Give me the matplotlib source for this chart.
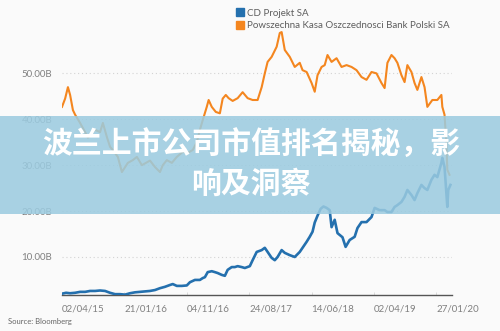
import matplotlib
matplotlib.use("Agg")
import matplotlib.pyplot as plt
from matplotlib.patches import Rectangle
from matplotlib.lines import Line2D

# Trading-day index (0 = 02/04/15) and market cap in billions
pko_days = [0, 10, 19, 26, 35, 42, 58, 74, 83, 106, 122, 131, 144, 154, 163, 179, 192,
            211, 227, 240, 256, 269, 282, 298, 314, 323, 336, 352, 368, 387, 403, 419,
            432, 442, 451, 464, 470, 480, 493, 506, 515, 525, 534, 547, 563, 579, 595,
            611, 627, 640, 650, 659, 672, 688, 698, 704, 714, 730, 746, 762, 771, 784,
            800, 810, 819, 832, 842, 851, 864, 880, 896, 912, 928, 944, 960, 976, 992,
            1008, 1024, 1034, 1043, 1056, 1066, 1075, 1088, 1098, 1107, 1120, 1130,
            1139, 1152, 1162, 1171, 1187, 1203, 1216, 1219, 1226, 1232, 1235, 1242]
pko_cap = [42.7, 44.5, 47.0, 45.3, 42.0, 41.0, 39.2, 37.2, 36.0, 37.7, 37.2, 39.2, 36.1,
           34.0, 33.3, 31.8, 28.5, 30.5, 31.1, 31.8, 30.0, 30.5, 31.0, 29.6, 28.5, 30.0,
           31.1, 30.5, 31.8, 32.9, 32.7, 33.3, 35.0, 37.7, 39.8, 42.7, 44.2, 42.7, 41.6,
           41.3, 44.5, 45.3, 44.6, 44.0, 44.6, 45.9, 44.6, 44.2, 44.2, 47.0, 50.0, 52.5,
           53.6, 55.8, 58.8, 59.0, 55.1, 53.6, 51.4, 52.3, 50.7, 50.3, 47.9, 46.0, 49.6,
           51.4, 51.8, 54.0, 52.5, 53.3, 51.4, 51.8, 51.4, 50.7, 49.2, 48.6, 50.3, 50.0,
           47.9, 46.8, 52.3, 54.0, 53.3, 52.3, 49.6, 48.1, 51.8, 50.3, 47.9, 46.4, 49.2,
           47.0, 42.7, 44.2, 44.2, 45.3, 42.7, 41.0, 34.8, 29.0, 27.9]

cdr_days = [0, 13, 26, 42, 58, 74, 90, 106, 122, 138, 154, 170, 186, 202, 218, 234, 250,
            266, 282, 298, 314, 330, 346, 355, 368, 384, 400, 410, 426, 442, 451, 458,
            467, 480, 490, 499, 512, 522, 531, 544, 554, 563, 576, 586, 602, 611, 624,
            640, 650, 659, 672, 682, 691, 704, 714, 730, 746, 762, 771, 784, 794, 803,
            810, 819, 829, 838, 848, 858, 864, 874, 883, 899, 909, 922, 938, 947, 960,
            976, 992, 1002, 1018, 1034, 1043, 1056, 1066, 1075, 1088, 1098, 1107, 1120,
            1130, 1139, 1152, 1162, 1171, 1184, 1194, 1203, 1216, 1219, 1226, 1229,
            1235, 1238, 1245]
cdr_cap = [2.0, 2.2, 2.1, 2.2, 2.4, 2.4, 2.6, 2.6, 2.7, 2.6, 2.2, 1.9, 1.9, 1.8, 2.1, 2.3,
           2.4, 2.5, 2.6, 2.8, 3.2, 3.5, 3.9, 4.1, 3.7, 3.7, 3.8, 4.5, 5.0, 5.0, 5.4, 5.6,
           6.7, 6.9, 6.7, 6.5, 6.1, 5.9, 7.2, 7.8, 7.8, 8.0, 7.8, 7.6, 8.0, 9.3, 11.1,
           11.5, 12.0, 11.1, 9.8, 9.3, 10.0, 11.5, 10.9, 10.4, 10.0, 11.1, 12.0, 13.3,
           14.4, 15.5, 17.5, 19.0, 20.5, 21.0, 20.7, 20.2, 16.5, 18.1, 15.2, 14.3, 12.2,
           13.7, 14.4, 16.3, 17.6, 17.6, 18.7, 20.7, 20.2, 20.2, 19.8, 19.8, 20.9, 21.3,
           22.0, 23.1, 24.6, 23.5, 22.4, 23.9, 25.7, 25.0, 24.6, 26.8, 27.9, 27.4, 30.5,
           31.6, 29.6, 26.8, 20.9, 24.6, 25.7]

tick_days = [0, 200, 400, 600, 800, 1000, 1200]
tick_labels = ["02/04/15", "21/01/16", "04/11/16", "24/08/17", "14/06/18", "02/04/19", "27/01/20"]
y_ticks = [10, 20, 30, 40, 50]

series_names = ["CD Projekt SA", "Powszechna Kasa Oszczednosci Bank Polski SA"]
blue = "#2470ae"
orange = "#f4861f"
bg = "#fafafa"
label_grey = "#808080"

plt.rcParams["font.family"] = ["Lato", "DejaVu Sans"]

fig = plt.figure(figsize=(5.0, 3.31), dpi=100, facecolor=bg)
ax = fig.add_axes([0.124, 0.1088, 0.78, 0.8082])
ax.set_facecolor(bg)

ax.plot(pko_days, pko_cap, color=orange, lw=1.5, solid_joinstyle="round", zorder=3)
ax.plot(cdr_days, cdr_cap, color=blue, lw=1.9, solid_joinstyle="round", zorder=4)

ax.set_xlim(0, 1250)
ax.set_ylim(1.72, 60)

ax.set_yticks(y_ticks)
ax.set_yticklabels([f"{v:.2f}B" for v in y_ticks])
ax.set_xticks(tick_days)
ax.set_xticklabels(tick_labels)
for lab in ax.get_xticklabels():
    lab.set_ha("left")

ax.tick_params(axis="y", length=0, pad=7, labelsize=7, labelcolor=label_grey)
ax.tick_params(axis="x", length=2.5, width=0.6, color="#d5d5d5", direction="in",
               pad=7, labelsize=7, labelcolor=label_grey)

ax.grid(axis="y", color="#d3d3d3", lw=0.8, linestyle=(0, (1, 2.5)))
ax.set_axisbelow(True)
for side in ["top", "right", "left"]:
    ax.spines[side].set_visible(False)
ax.spines["bottom"].set_color("#555555")
ax.spines["bottom"].set_linewidth(1.0)

# Legend with square swatches
handles = [Line2D([], [], ls="none", marker="s", markersize=5.5, color=c) for c in (blue, orange)]
fig.legend(handles, series_names, loc="upper left", bbox_to_anchor=(0.462, 0.985),
           frameon=False, fontsize=7, labelcolor="#5e5e5e", handletextpad=0.2,
           labelspacing=0.35, handlelength=1.0, borderaxespad=0)

fig.text(0.016, 0.022, "Source: Bloomberg", fontsize=5.5, color="#666666")

# Headline banner across the middle
fig.add_artist(Rectangle((0, 1 - 214 / 331), 1, 98 / 331, transform=fig.transFigure,
                         facecolor="#9bcbe0", edgecolor="none", alpha=0.86, zorder=10))
title_font = dict(family=["Noto Sans CJK SC", "DejaVu Sans"], fontsize=21.5,
                  fontweight="bold", color="white", ha="center", va="center", zorder=11)
fig.text(0.502, 1 - 145 / 331, "波兰上市公司市值排名揭秘，影", **title_font)
fig.text(0.502, 1 - 184 / 331, "响及洞察", **title_font)

fig.savefig("out.png", dpi=100, facecolor=bg)
